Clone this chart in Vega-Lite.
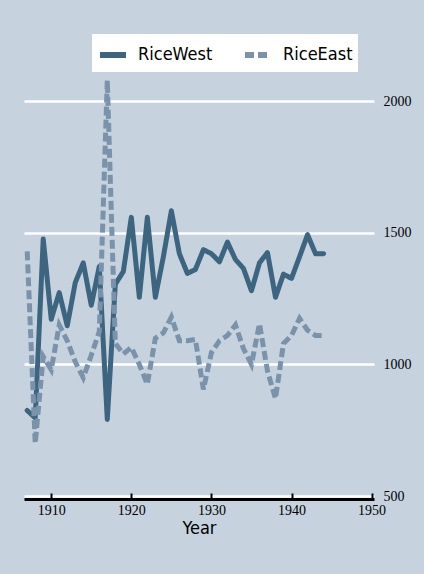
{
  "$schema": "https://vega.github.io/schema/vega-lite/v6.json",
  "width": 350,
  "height": 421,
  "autosize": {"type": "none"},
  "padding": {"left": 24, "top": 75, "right": 50, "bottom": 78},
  "background": "#c6d3df",
  "config": {
    "view": {"stroke": null, "fill": "#c6d3df"},
    "axis": {"labelFont": "Liberation Serif", "labelColor": "#000000", "titleFont": "DejaVu Sans Condensed", "titleColor": "#000000"},
    "legend": {"labelFont": "DejaVu Sans Condensed", "labelColor": "#000000"}
  },
  "data": {
    "values": [
      {"Year": 1907, "series": "RiceWest", "value": 825},
      {"Year": 1908, "series": "RiceWest", "value": 797},
      {"Year": 1909, "series": "RiceWest", "value": 1477},
      {"Year": 1910, "series": "RiceWest", "value": 1172},
      {"Year": 1911, "series": "RiceWest", "value": 1273},
      {"Year": 1912, "series": "RiceWest", "value": 1147},
      {"Year": 1913, "series": "RiceWest", "value": 1311},
      {"Year": 1914, "series": "RiceWest", "value": 1386},
      {"Year": 1915, "series": "RiceWest", "value": 1225},
      {"Year": 1916, "series": "RiceWest", "value": 1372},
      {"Year": 1917, "series": "RiceWest", "value": 791},
      {"Year": 1918, "series": "RiceWest", "value": 1305},
      {"Year": 1919, "series": "RiceWest", "value": 1353},
      {"Year": 1920, "series": "RiceWest", "value": 1559},
      {"Year": 1921, "series": "RiceWest", "value": 1255},
      {"Year": 1922, "series": "RiceWest", "value": 1559},
      {"Year": 1923, "series": "RiceWest", "value": 1255},
      {"Year": 1924, "series": "RiceWest", "value": 1409},
      {"Year": 1925, "series": "RiceWest", "value": 1584},
      {"Year": 1926, "series": "RiceWest", "value": 1421},
      {"Year": 1927, "series": "RiceWest", "value": 1346},
      {"Year": 1928, "series": "RiceWest", "value": 1361},
      {"Year": 1929, "series": "RiceWest", "value": 1436},
      {"Year": 1930, "series": "RiceWest", "value": 1421},
      {"Year": 1931, "series": "RiceWest", "value": 1390},
      {"Year": 1932, "series": "RiceWest", "value": 1465},
      {"Year": 1933, "series": "RiceWest", "value": 1399},
      {"Year": 1934, "series": "RiceWest", "value": 1365},
      {"Year": 1935, "series": "RiceWest", "value": 1280},
      {"Year": 1936, "series": "RiceWest", "value": 1386},
      {"Year": 1937, "series": "RiceWest", "value": 1425},
      {"Year": 1938, "series": "RiceWest", "value": 1255},
      {"Year": 1939, "series": "RiceWest", "value": 1343},
      {"Year": 1940, "series": "RiceWest", "value": 1327},
      {"Year": 1941, "series": "RiceWest", "value": 1409},
      {"Year": 1942, "series": "RiceWest", "value": 1493},
      {"Year": 1943, "series": "RiceWest", "value": 1421},
      {"Year": 1944, "series": "RiceWest", "value": 1421},
      {"Year": 1907, "series": "RiceEast", "value": 1430},
      {"Year": 1908, "series": "RiceEast", "value": 700},
      {"Year": 1909, "series": "RiceEast", "value": 1030},
      {"Year": 1910, "series": "RiceEast", "value": 980},
      {"Year": 1911, "series": "RiceEast", "value": 1150},
      {"Year": 1912, "series": "RiceEast", "value": 1090},
      {"Year": 1913, "series": "RiceEast", "value": 1010},
      {"Year": 1914, "series": "RiceEast", "value": 950},
      {"Year": 1915, "series": "RiceEast", "value": 1035},
      {"Year": 1916, "series": "RiceEast", "value": 1125},
      {"Year": 1917, "series": "RiceEast", "value": 2080},
      {"Year": 1918, "series": "RiceEast", "value": 1080},
      {"Year": 1919, "series": "RiceEast", "value": 1040},
      {"Year": 1920, "series": "RiceEast", "value": 1065},
      {"Year": 1921, "series": "RiceEast", "value": 1000},
      {"Year": 1922, "series": "RiceEast", "value": 925},
      {"Year": 1923, "series": "RiceEast", "value": 1100},
      {"Year": 1924, "series": "RiceEast", "value": 1120},
      {"Year": 1925, "series": "RiceEast", "value": 1180},
      {"Year": 1926, "series": "RiceEast", "value": 1090},
      {"Year": 1927, "series": "RiceEast", "value": 1090},
      {"Year": 1928, "series": "RiceEast", "value": 1095},
      {"Year": 1929, "series": "RiceEast", "value": 905},
      {"Year": 1930, "series": "RiceEast", "value": 1045},
      {"Year": 1931, "series": "RiceEast", "value": 1090},
      {"Year": 1932, "series": "RiceEast", "value": 1110},
      {"Year": 1933, "series": "RiceEast", "value": 1150},
      {"Year": 1934, "series": "RiceEast", "value": 1060},
      {"Year": 1935, "series": "RiceEast", "value": 1000},
      {"Year": 1936, "series": "RiceEast", "value": 1155},
      {"Year": 1937, "series": "RiceEast", "value": 975},
      {"Year": 1938, "series": "RiceEast", "value": 870},
      {"Year": 1939, "series": "RiceEast", "value": 1080},
      {"Year": 1940, "series": "RiceEast", "value": 1110},
      {"Year": 1941, "series": "RiceEast", "value": 1175},
      {"Year": 1942, "series": "RiceEast", "value": 1130},
      {"Year": 1943, "series": "RiceEast", "value": 1110},
      {"Year": 1944, "series": "RiceEast", "value": 1110}
    ]
  },
  "encoding": {
    "x": {
      "field": "Year",
      "type": "quantitative",
      "scale": {"domain": [1906.6, 1950.3], "nice": false, "zero": false},
      "axis": {
        "values": [1910, 1920, 1930, 1940, 1950],
        "format": "d",
        "grid": false,
        "offset": 3,
        "domainColor": "#000000",
        "domainWidth": 3,
        "tickColor": "#000000",
        "tickWidth": 2,
        "tickSize": -6,
        "labelFontSize": 14,
        "labelPadding": 10,
        "labelFlush": false,
        "title": "Year",
        "titleFontSize": 18,
        "titleFontWeight": "normal",
        "titlePadding": 2
      }
    },
    "y": {
      "field": "value",
      "type": "quantitative",
      "scale": {"domain": [500, 2100], "nice": false, "zero": false},
      "axis": {
        "orient": "right",
        "values": [500, 1000, 1500, 2000],
        "format": "d",
        "grid": true,
        "gridColor": "#ffffff",
        "gridWidth": 2.5,
        "gridOpacity": 1,
        "domain": false,
        "ticks": false,
        "labelFontSize": 14,
        "labelPadding": 9,
        "title": null
      }
    },
    "color": {
      "field": "series",
      "type": "nominal",
      "scale": {"domain": ["RiceWest", "RiceEast"], "range": ["#3d6580", "#7b93aa"]},
      "legend": {
        "title": null,
        "orient": "none",
        "legendX": 68,
        "legendY": -41,
        "direction": "horizontal",
        "fillColor": "#ffffff",
        "padding": 5,
        "columnPadding": 20,
        "symbolType": "stroke",
        "symbolSize": 676,
        "symbolStrokeWidth": 6,
        "labelFontSize": 18,
        "labelOffset": 9
      }
    },
    "strokeDash": {
      "field": "series",
      "type": "nominal",
      "scale": {"domain": ["RiceWest", "RiceEast"], "range": [[1, 0], [9, 4]]},
      "legend": null
    }
  },
  "layer": [
    {
      "transform": [{"filter": "datum.series === 'RiceWest'"}],
      "mark": {"type": "line", "strokeWidth": 5, "strokeCap": "round", "strokeJoin": "round"}
    },
    {
      "transform": [{"filter": "datum.series === 'RiceEast'"}],
      "mark": {"type": "line", "strokeWidth": 5, "strokeCap": "butt", "strokeJoin": "miter"}
    }
  ]
}
